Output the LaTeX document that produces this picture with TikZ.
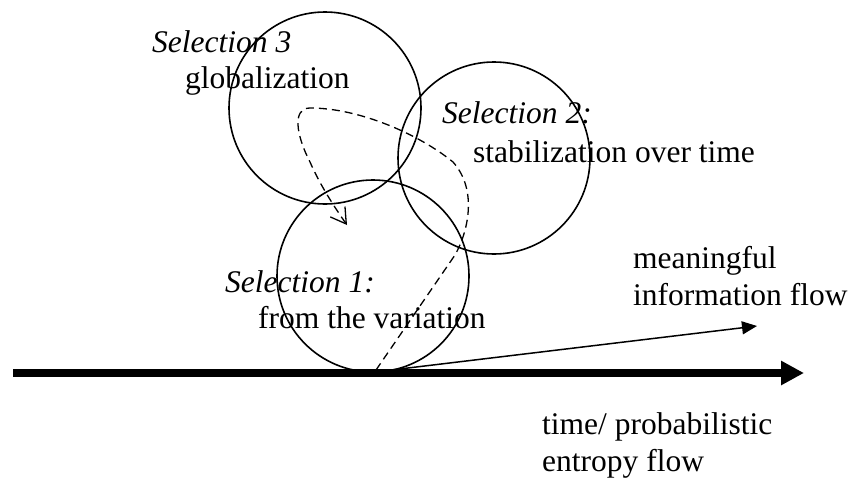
\documentclass[tikz,border=0pt]{standalone}
\usepackage{fontspec}
\setmainfont{Liberation Serif}
\usetikzlibrary{arrows.meta}
\begin{document}
\begin{tikzpicture}[x=1pt,y=-1pt,
  selcircle/.style={circle,draw,line width=1.6pt,minimum size=192pt,inner sep=0pt},
  lbl/.style={anchor=base west,inner sep=0pt,font=\fontsize{31.5}{36}\selectfont},
  ilbl/.style={anchor=base west,inner sep=0pt,font=\fontsize{31.5}{36}\selectfont\itshape},
  axisarrow/.style={line width=8pt,-{Triangle[length=23pt,width=23pt]}},
  infoarrow/.style={line width=1.5pt,-{Triangle[length=15pt,width=13pt]}},
  loopdash/.style={line width=1.3pt,dash pattern=on 8pt off 5pt,-{Straight Barb[length=15pt,width=18pt,line width=1.3pt]}},
]
\useasboundingbox (0,0) rectangle (853,479);
\fill[white] (0,0) rectangle (853,479);

% circles
\node[selcircle] (c3) at (325,108) {};
\node[selcircle] (c2) at (494,158) {};
\node[selcircle] (c1) at (373,276) {};

% labels
\node[ilbl] (s3) at (152,52) {Selection 3};
\node[lbl]  (g3) at (185,88) {globalization};
\node[ilbl] (s2) at (442,123) {Selection 2:};
\node[lbl]  (g2) at (473,162) {stabilization over time};
\node[ilbl] (s1) at (225,292) {Selection 1:};
\node[lbl]  (g1) at (258,328) {from the variation};
\node[lbl]  (m1) at (633,268) {meaningful};
\node[lbl]  (m2) at (633,305) {information flow};
\node[lbl]  (t1) at (542,434) {time/ probabilistic};
\node[lbl]  (t2) at (542,471) {entropy flow};

% axis
\coordinate (axstart) at (13,373);
\coordinate (axend) at (804,373);
\draw[axisarrow] (axstart) -- (axend);

% information flow arrow
\coordinate (infostart) at (383,371);
\coordinate (infoend) at (757,326);
\draw[infoarrow] (infostart) -- (infoend);

% dashed selection loop
\coordinate (d0) at (376,370);
\coordinate (d1) at (455,255);
\coordinate (d2) at (453,162);
\coordinate (d3) at (310,108);
\coordinate (d4) at (310,162);
\coordinate (d5) at (347,225);
\draw[loopdash] (d0) -- (d1)
  .. controls (468,232) and (478,190) .. (d2)
  .. controls (420,135) and (360,108) .. (d3)
  .. controls (292,108) and (296,135) .. (d4)
  .. controls (320,185) and (335,208) .. (d5);
\end{tikzpicture}
\end{document}
